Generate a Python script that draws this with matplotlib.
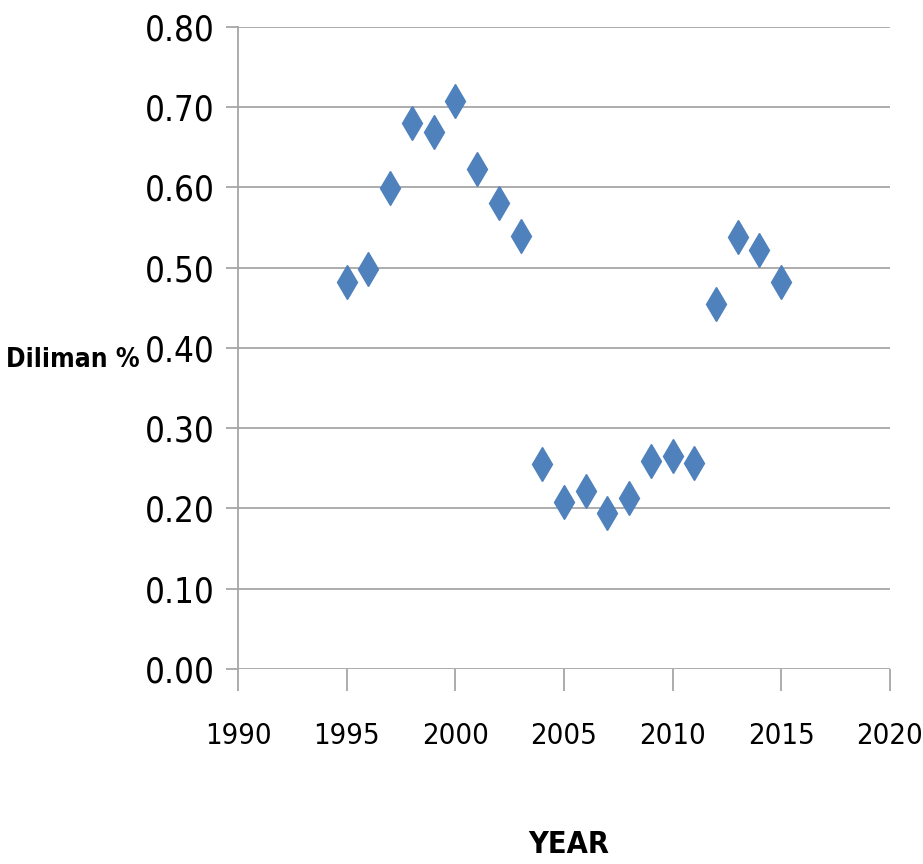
import matplotlib.pyplot as plt

# datos
anios = [1995, 1996, 1997, 1998, 1999, 2000, 2001, 2002, 2003, 2004, 2005,
         2006, 2007, 2008, 2009, 2010, 2011, 2012, 2013, 2014, 2015]
diliman = [0.482, 0.498, 0.599, 0.680, 0.669, 0.708, 0.623, 0.581, 0.540, 0.255, 0.208,
           0.222, 0.194, 0.213, 0.259, 0.265, 0.257, 0.455, 0.538, 0.522, 0.482]

ticks_x = [1990, 1995, 2000, 2005, 2010, 2015, 2020]
ticks_y = [0.0, 0.1, 0.2, 0.3, 0.4, 0.5, 0.6, 0.7, 0.8]

plt.rcParams['font.family'] = ['DejaVu Sans']
plt.rcParams['font.stretch'] = 'condensed'

fig = plt.figure(figsize=(9.23, 8.64), dpi=100)
ax = fig.add_axes([0.258, 0.2257, 0.706, 0.7431])

ax.plot(anios, diliman, linestyle="none", marker="d", markersize=17,
        color="#4F81BD", markeredgecolor="#4F81BD")

ax.set_xlim(1990, 2020)
ax.set_ylim(0, 0.8)
ax.set_xticks(ticks_x)
ax.set_yticks(ticks_y)
ax.set_yticklabels([f"{v:.2f}" for v in ticks_y])

ax.grid(True, axis="y", color="#A6A6A6", linewidth=1.3)
ax.set_axisbelow(True)
for lado in ["top", "right", "bottom"]:
    ax.spines[lado].set_visible(False)
ax.spines["left"].set_color("#A6A6A6")
ax.spines["left"].set_linewidth(1.3)

ax.tick_params(axis="y", length=9, width=1.3, color="#A6A6A6", labelsize=25, pad=8)
ax.tick_params(axis="x", length=16, width=1.3, color="#A6A6A6", labelsize=21, pad=22)
for t in ax.get_xticklabels() + ax.get_yticklabels():
    t.set_fontstretch("condensed")

fig.text(0.079, 0.583, "Diliman %", fontsize=19, fontweight="bold",
         fontstretch="condensed", ha="center", va="center")
fig.text(0.616, 0.022, "YEAR", fontsize=22, fontweight="bold",
         fontstretch="condensed", ha="center", va="center")

plt.savefig("out.png", dpi=100)
